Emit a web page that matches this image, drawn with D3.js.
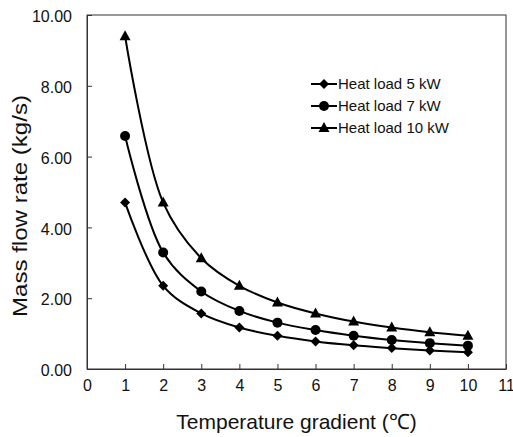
<!DOCTYPE html>
<html><head><meta charset="utf-8">
<script src="https://cdn.jsdelivr.net/npm/d3@7"></script>
<style>body{margin:0;background:#fff}svg{display:block}text{font-family:Arial,"Liberation Sans",sans-serif;fill:#111}</style>
</head><body>
<script>
const xValues = [1,2,3,4,5,6,7,8,9,10];
const load5 = [4.70,2.35,1.57,1.17,0.94,0.78,0.67,0.59,0.52,0.47];
const load7 = [6.58,3.29,2.19,1.64,1.31,1.10,0.94,0.82,0.73,0.66];
const load10 = [9.40,4.70,3.13,2.35,1.88,1.57,1.34,1.17,1.04,0.94];
const seriesNames = ["Heat load 5 kW","Heat load 7 kW","Heat load 10 kW"];
const markerTypes = ["diamond","circle","triangle"];
const xTicks = [0,1,2,3,4,5,6,7,8,9,10,11];
const yTicks = [0,2,4,6,8,10];
const xLabel = "Temperature gradient (\u2103)";
const yLabel = "Mass flow rate (kg/s)";

const W=513,H=437;
const svg=d3.select("body").append("svg").attr("width",W).attr("height",H);
const L=87,R=506,T=15,B=369;
const x=d3.scaleLinear().domain([0,11]).range([L,R]);
const y=d3.scaleLinear().domain([0,10]).range([B,T]);

// frame
svg.append("rect").attr("x",L).attr("y",T).attr("width",R-L).attr("height",B-T)
  .attr("fill","none").attr("stroke","#333").attr("stroke-width",1);

const xa=svg.append("g").attr("transform",`translate(0,${B})`)
  .call(d3.axisBottom(x).tickValues(xTicks).tickSizeInner(-5).tickSizeOuter(0).tickPadding(11).tickFormat(d3.format("d")));
xa.select(".domain").attr("stroke","#333");
xa.selectAll(".tick line").attr("stroke","#333");
xa.selectAll("text").attr("font-size",16).attr("fill","#111").style("font-family","Arial,'Liberation Sans',sans-serif");

const ya=svg.append("g").attr("transform",`translate(${L},0)`)
  .call(d3.axisLeft(y).tickValues(yTicks).tickSizeInner(-5).tickSizeOuter(0).tickPadding(15).tickFormat(d3.format(".2f")));
ya.select(".domain").attr("stroke","#333");
ya.selectAll(".tick line").attr("stroke","#333");
ya.selectAll("text").attr("font-size",16).attr("fill","#111").attr("dy","0.42em").style("font-family","Arial,'Liberation Sans',sans-serif");

svg.append("text").attr("x",(175+418)/2).attr("y",429).attr("text-anchor","middle")
  .attr("font-size",21).text(xLabel);
svg.append("text").attr("transform","translate(27,206) rotate(-90)").attr("text-anchor","middle")
  .attr("font-size",21).attr("textLength",222).attr("lengthAdjust","spacingAndGlyphs").text(yLabel);

const data=[load5,load7,load10];
const line=d3.line().x((d,i)=>x(xValues[i])).y(d=>y(d)).curve(d3.curveCatmullRom.alpha(0.5));
function marker(g,type,cx,cy,s){
  if(type==="diamond"){
    g.append("path").attr("d",`M${cx},${cy-5}L${cx+5},${cy}L${cx},${cy+5}L${cx-5},${cy}Z`).attr("fill","#000");
  } else if(type==="circle"){
    g.append("circle").attr("cx",cx).attr("cy",cy).attr("r",5).attr("fill","#000");
  } else {
    g.append("path").attr("d",`M${cx},${cy-6}L${cx+5.5},${cy+4}L${cx-5.5},${cy+4}Z`).attr("fill","#000");
  }
}
data.forEach((vals,k)=>{
  svg.append("path").datum(vals).attr("d",line).attr("fill","none").attr("stroke","#000").attr("stroke-width",2);
  const g=svg.append("g");
  vals.forEach((v,i)=>marker(g,markerTypes[k],x(xValues[i]),y(v)));
});

// legend
const legY=[84,106,128];
seriesNames.forEach((n,k)=>{
  const g=svg.append("g");
  g.append("line").attr("x1",311).attr("x2",337).attr("y1",legY[k]).attr("y2",legY[k]).attr("stroke","#000").attr("stroke-width",2);
  marker(g,markerTypes[k],324,legY[k]);
  g.append("text").attr("x",338).attr("y",legY[k]).attr("dy","0.36em").attr("font-size",15).text(n);
});
</script>
</body></html>
